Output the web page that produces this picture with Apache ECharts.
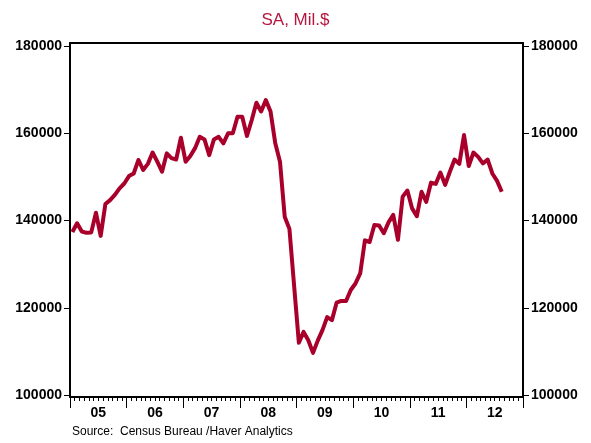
<!DOCTYPE html>
<html>
<head>
<meta charset="utf-8">
<script src="https://cdn.jsdelivr.net/npm/echarts@6/dist/echarts.min.js"></script>
<style>
html,body{margin:0;padding:0;background:#fff;}
#chart{width:591px;height:443px;}
</style>
</head>
<body>
<div id="chart"></div>
<script>
// Monthly categories Jan 2005 .. Dec 2012
const years = ['05','06','07','08','09','10','11','12'];
const months = [];
for (let y = 2005; y <= 2012; y++) for (let m = 1; m <= 12; m++) months.push(y + '-' + (m < 10 ? '0' + m : m));

// SA, Mil.$ (Jan 2005 .. Aug 2012)
const values = [
  137400,139400,137500,137200,137300,141800,136500,143800,144700,145900,147400,148500,
  150200,150800,153900,151600,153000,155600,153500,151200,155400,154300,154000,159000,
  153500,154800,156600,159200,158600,155000,158600,159200,157700,160000,160000,163800,
  163800,159400,163000,167000,165000,167600,165000,157700,153500,140900,138100,125000,
  112000,114500,112600,109700,112500,114900,117900,117200,121200,121600,121600,124100,
  125600,127900,135500,135100,139000,138900,137100,139600,141300,135600,145500,146900,
  142800,141000,146600,144300,148700,148400,151000,148200,151200,154000,153000,159600,
  152500,155600,154600,153100,154000,150800,149100,146600
];
const yTicks = [100000,120000,140000,160000,180000];

const chart = echarts.init(document.getElementById('chart'));
const labelFont = {fontFamily:'Liberation Sans', fontWeight:'bold', fontSize:14, color:'#000'};
const yAxisCommon = {
  type:'value', min:99590, max:180690,
  splitLine:{show:false},
  axisLine:{show:true, lineStyle:{color:'#000', width:2}},
  axisTick:{show:true, customValues:yTicks, length:6, lineStyle:{color:'#000', width:1}},
  axisLabel:Object.assign({customValues:yTicks, margin:8, formatter:function(v){return String(v);}}, labelFont)
};
chart.setOption({
  animation:false,
  title:{text:'SA, Mil.$', left:'center', top:7,
    textStyle:{color:'#B5173E', fontFamily:'Liberation Sans', fontWeight:'normal', fontSize:17}},
  grid:{left:70, right:68, top:43, bottom:46, show:false},
  xAxis:[
    {type:'category', data:months, boundaryGap:true, position:'bottom',
     axisLine:{show:true, lineStyle:{color:'#000', width:2}},
     axisTick:{show:true, interval:0, length:4, lineStyle:{color:'#000', width:1}},
     axisLabel:{show:false}, splitLine:{show:false}},
    {type:'category', data:years, boundaryGap:true, position:'bottom',
     axisLine:{show:false},
     axisTick:{show:true, length:11, lineStyle:{color:'#000', width:1}},
     axisLabel:Object.assign({margin:9}, labelFont), splitLine:{show:false}},
    {type:'category', data:years, boundaryGap:true, position:'top',
     axisLine:{show:true, lineStyle:{color:'#000', width:2}},
     axisTick:{show:false}, axisLabel:{show:false}}
  ],
  yAxis:[
    Object.assign({position:'left'}, yAxisCommon),
    Object.assign({position:'right'}, yAxisCommon)
  ],
  graphic:[{type:'text', left:72, top:426,
    style:{text:'Source:  Census Bureau /Haver Analytics', fontFamily:'Liberation Sans', fontSize:12, fill:'#000'}}],
  series:[{type:'line', xAxisIndex:0, yAxisIndex:0, data:values, showSymbol:false,
    lineStyle:{color:'#A8002B', width:4, join:'round'}}]
});
</script>
</body>
</html>
